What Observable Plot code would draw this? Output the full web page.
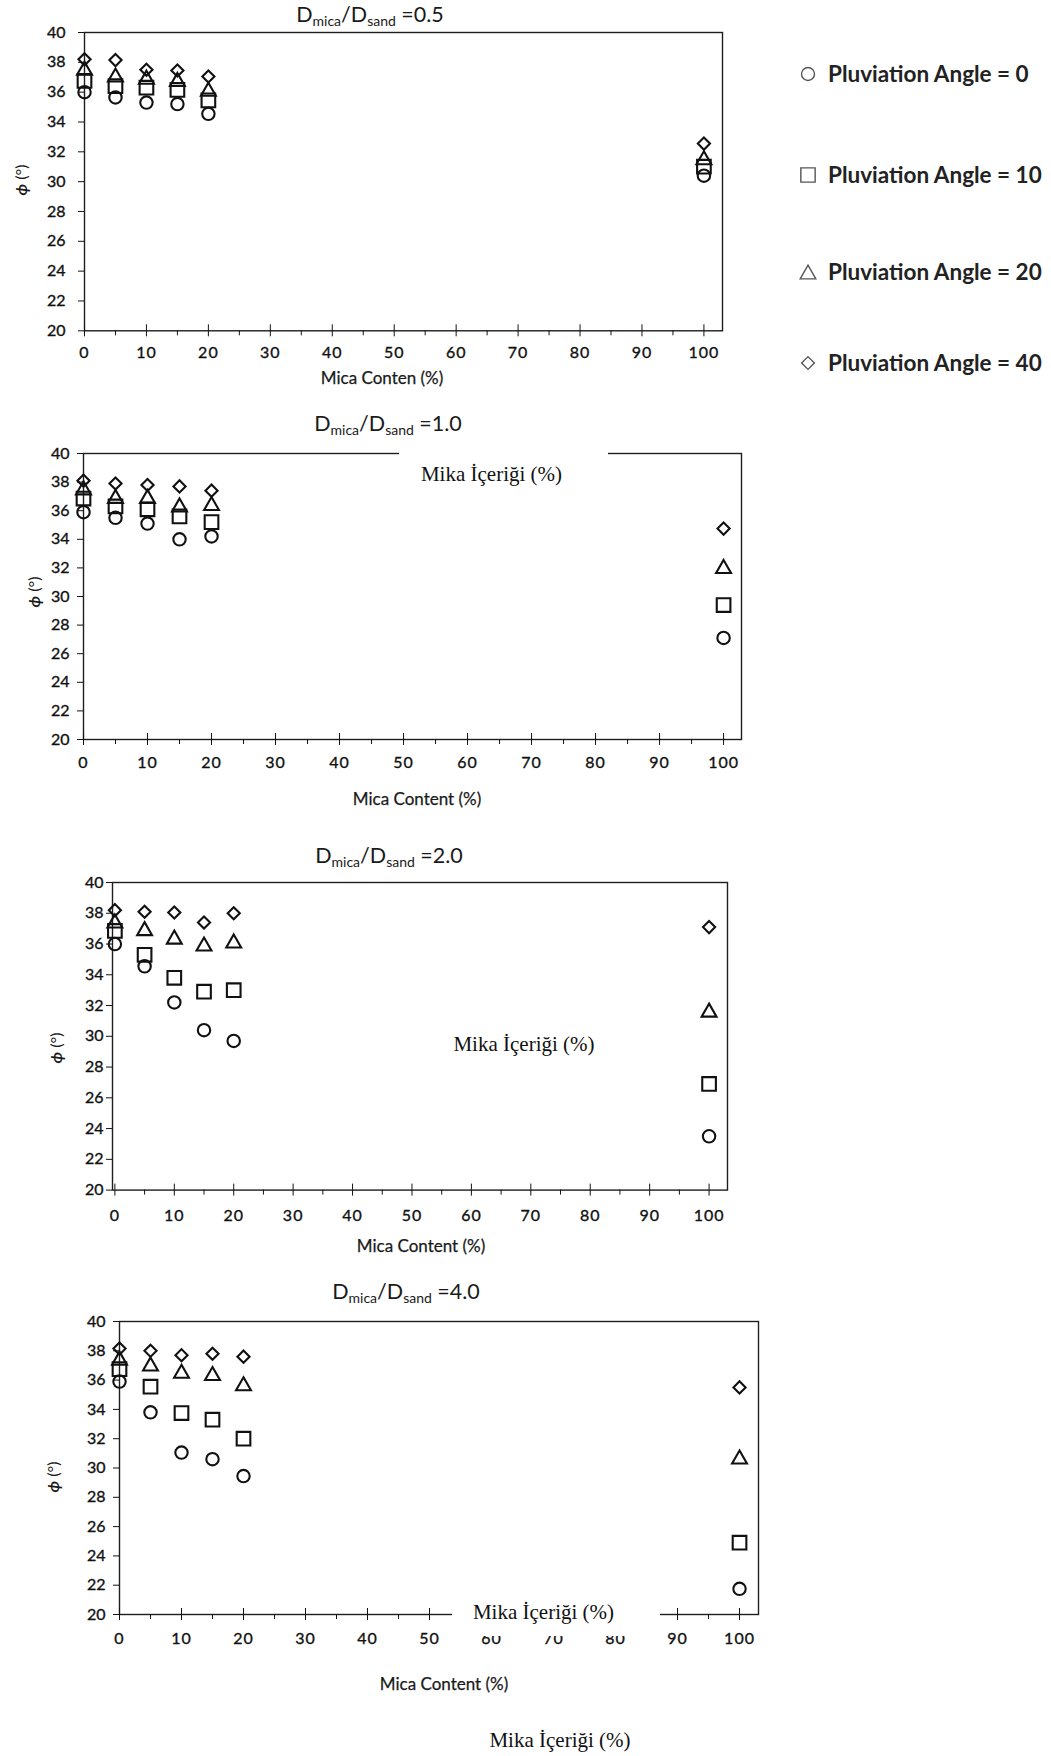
<!DOCTYPE html>
<html>
<head>
<meta charset="utf-8">
<script src="https://cdn.jsdelivr.net/npm/d3@7"></script>
<script src="https://cdn.jsdelivr.net/npm/@observablehq/plot@0.6"></script>
<style>
  body { margin: 0; background: #fff; }
  #page { position: relative; width: 1051px; height: 1756px; overflow: hidden; background: #fff;
          font-family: Lato, "Open Sans", sans-serif; color: #1a1a1a; }
  .t { position: absolute; white-space: nowrap; line-height: 1; transform: translate(-50%, -50%); }
  .title { font-size: 21.5px; }
  .title sub { font-size: 14px; vertical-align: -4px; }
  .xlab { font-size: 17px; -webkit-text-stroke: 0.25px #1a1a1a; }
  .ylab { font-size: 16px; transform: translate(-50%, -50%) rotate(-90deg); }
  .ylab i { font-weight: 700; }
  .tr { font-family: "Liberation Serif", "Times New Roman", serif; font-size: 21px; color: #111; }
  .mask { position: absolute; background: #fff; }
  .leg { position: absolute; font-size: 22.5px; font-weight: 700; color: #222; white-space: nowrap; line-height: 1; transform: translateY(-50%); }
  svg.plot { position: absolute; left: 0; overflow: visible; }
  svg.plot g[aria-label="y-axis tick label"] text,
  svg.plot g[aria-label="x-axis tick label"] text { stroke: #111; stroke-width: 0.35px; }
  svg.plot g[aria-label="x-axis tick label"] text { letter-spacing: 1px; }
</style>
</head>
<body>
<div id="page"></div>
<script>
// Mica content (%) on the x axis and pluviation angles (degrees) of the four series
const micaContent = [0, 5, 10, 15, 20, 100];
const pluviationAngles = [0, 10, 20, 40];
const xTicks = [0, 10, 20, 30, 40, 50, 60, 70, 80, 90, 100];
const yTicks = [20, 22, 24, 26, 28, 30, 32, 34, 36, 38, 40];

// Internal friction angle phi (degrees), D_mica/D_sand = 0.5
const phi05_angle0  = [36.0, 35.65, 35.3, 35.2, 34.55, 30.4];
const phi05_angle10 = [36.75, 36.4, 36.3, 36.15, 35.45, 31.0];
const phi05_angle20 = [37.6, 37.15, 37.0, 36.85, 36.2, 31.6];
const phi05_angle40 = [38.2, 38.15, 37.5, 37.45, 37.05, 32.55];

// D_mica/D_sand = 1.0
const phi10_angle0  = [35.9, 35.5, 35.1, 34.0, 34.2, 27.1];
const phi10_angle10 = [36.85, 36.3, 36.1, 35.6, 35.2, 29.4];
const phi10_angle20 = [37.6, 37.0, 37.0, 36.4, 36.5, 32.1];
const phi10_angle40 = [38.1, 37.9, 37.8, 37.7, 37.4, 34.75];

// D_mica/D_sand = 2.0
const phi20_angle0  = [36.0, 34.55, 32.2, 30.4, 29.7, 23.5];
const phi20_angle10 = [36.85, 35.3, 33.8, 32.9, 33.0, 26.9];
const phi20_angle20 = [37.5, 37.0, 36.45, 36.0, 36.2, 31.7];
const phi20_angle40 = [38.2, 38.1, 38.05, 37.4, 38.0, 37.1];

// D_mica/D_sand = 4.0
const phi40_angle0  = [35.9, 33.8, 31.05, 30.6, 29.45, 21.75];
const phi40_angle10 = [36.75, 35.55, 33.75, 33.3, 32.0, 24.9];
const phi40_angle20 = [37.5, 37.1, 36.6, 36.45, 35.75, 30.75];
const phi40_angle40 = [38.15, 38.0, 37.7, 37.8, 37.6, 35.5];

const ratioLabels = ["0.5", "1.0", "2.0", "4.0"];
const xTitles = ["Mica Conten (%)", "Mica Content (%)", "Mica Content (%)", "Mica Content (%)"];
const overlayText = "Mika İçeriği (%)";

const page = document.getElementById("page");

// Open marker shapes: circle, square, triangle, diamond
function makeSymbol(kind) {
  return {
    draw(ctx, size) {
      const r = Math.sqrt(size / Math.PI);
      if (kind === "circle") {
        ctx.moveTo(r, 0); ctx.arc(0, 0, r, 0, 2 * Math.PI);
      } else if (kind === "square") {
        const s = r * 1.1;
        ctx.moveTo(-s, -s); ctx.lineTo(s, -s); ctx.lineTo(s, s); ctx.lineTo(-s, s); ctx.closePath();
      } else if (kind === "triangle") {
        const w = r * 1.2, h = r * 1.05;
        ctx.moveTo(0, -h); ctx.lineTo(w, h); ctx.lineTo(-w, h); ctx.closePath();
      } else {
        const a = r * 0.98;
        ctx.moveTo(0, -a); ctx.lineTo(a, 0); ctx.lineTo(0, a); ctx.lineTo(-a, 0); ctx.closePath();
      }
    }
  };
}
const symbols = [makeSymbol("circle"), makeSymbol("square"), makeSymbol("triangle"), makeSymbol("diamond")];

function rows(values) {
  return micaContent.map((m, i) => ({mica: m, phi: values[i]}));
}

function addText(cls, html, x, y) {
  const d = document.createElement("div");
  d.className = "t " + cls;
  d.innerHTML = html;
  d.style.left = x + "px";
  d.style.top = y + "px";
  page.appendChild(d);
  return d;
}

// Panel geometry (frame edges in page pixels) and axis spacing
const panels = [
  {series: [phi05_angle0, phi05_angle10, phi05_angle20, phi05_angle40],
   left: 84, right: 722, top: 31.7, bottom: 330, xDomain: [0, 103],
   yPad: 13, xPad: 10, title: [370, 16], xTitle: [382, 377], yTitle: [21, 180]},
  {series: [phi10_angle0, phi10_angle10, phi10_angle20, phi10_angle40],
   left: 83, right: 741, top: 453.3, bottom: 739.3, xDomain: [0, 102.8],
   yPad: 8, xPad: 11, title: [388, 425], xTitle: [417, 798], yTitle: [34, 592]},
  {series: [phi20_angle0, phi20_angle10, phi20_angle20, phi20_angle40],
   left: 112, right: 727, top: 881.7, bottom: 1189.3, xDomain: [-0.4, 103.1],
   yPad: 3, xPad: 14, title: [389, 857], xTitle: [421, 1245], yTitle: [56, 1048]},
  {series: [phi40_angle0, phi40_angle10, phi40_angle20, phi40_angle40],
   left: 119, right: 758, top: 1321, bottom: 1614, xDomain: [0, 103.06],
   yPad: 8, xPad: 12, title: [406, 1293], xTitle: [444, 1683], yTitle: [53, 1477]}
];

// White backing behind the third panel
const back = document.createElement("div");
back.className = "mask";
Object.assign(back.style, {left: "0px", top: "828px", width: "755px", height: "440px"});
page.appendChild(back);

panels.forEach((p, k) => {
  const width = 790, mt = 12, mb = 40;
  const height = (p.bottom - p.top) + mt + mb;
  const chart = Plot.plot({
    width, height,
    marginLeft: p.left, marginRight: width - p.right, marginTop: mt, marginBottom: mb,
    x: {domain: p.xDomain, label: null},
    y: {domain: [20, 40], label: null},
    style: {fontFamily: "Lato, 'Open Sans', sans-serif", fontSize: "16px", color: "#111", background: "transparent", overflow: "visible"},
    marks: [
      Plot.frame({stroke: "#1e1e1e", strokeWidth: 1.4}),
      Plot.axisY({ticks: yTicks, tickSize: 6, tickPadding: p.yPad, label: null, tickFormat: d => d, fontSize: 16}),
      Plot.axisX({ticks: xTicks, tickSize: 6, tickPadding: p.xPad, label: null, tickFormat: d => d, fontSize: 16}),
      Plot.axisX({ticks: xTicks, tickSize: -6, label: null, tickFormat: () => ""}),
      Plot.axisX({ticks: d3.range(5, 100, 10), tickSize: 5, label: null, tickFormat: () => ""}),
      ...p.series.map((vals, i) => Plot.dot(rows(vals), {
        x: "mica", y: "phi", symbol: symbols[i], r: 6.2,
        fill: "none", stroke: "#111", strokeWidth: 2.1
      }))
    ]
  });
  chart.classList.add("plot");
  chart.style.top = (p.top - mt) + "px";
  page.appendChild(chart);

  addText("title", `D<sub>mica</sub>/D<sub>sand</sub> =${ratioLabels[k]}`, p.title[0], p.title[1]);
  addText("xlab", xTitles[k], p.xTitle[0], p.xTitle[1]);
  addText("ylab", "<i>ϕ</i> (°)", p.yTitle[0], p.yTitle[1]);
});

// Turkish axis captions laid over the figure
function addMask(x, y, w, h) {
  const m = document.createElement("div");
  m.className = "mask";
  Object.assign(m.style, {left: x + "px", top: y + "px", width: w + "px", height: h + "px"});
  page.appendChild(m);
}
addMask(399, 446, 209, 50);
addText("tr", overlayText, 491.5, 473.5);
addText("tr", overlayText, 524, 1044);
addMask(452, 1597, 208, 39);
addText("tr", overlayText, 543.5, 1612);
addText("tr", overlayText, 560, 1740);

// Legend
const legendRows = [74, 175, 272, 363];
pluviationAngles.forEach((a, i) => {
  const svg = d3.create("svg").attr("width", 22).attr("height", 22)
    .style("position", "absolute").style("left", (808 - 11) + "px").style("top", (legendRows[i] - 11) + "px");
  const path = d3.path();
  symbols[i].draw(path, 6.5 * 6.5 * Math.PI);
  svg.append("path").attr("d", path.toString()).attr("transform", "translate(11,11)")
    .attr("fill", "none").attr("stroke", "#555").attr("stroke-width", 1.4);
  page.appendChild(svg.node());
  const d = document.createElement("div");
  d.className = "leg";
  d.textContent = `Pluviation Angle = ${a}`;
  d.style.left = "828px";
  d.style.top = legendRows[i] + "px";
  page.appendChild(d);
});
</script>
</body>
</html>
